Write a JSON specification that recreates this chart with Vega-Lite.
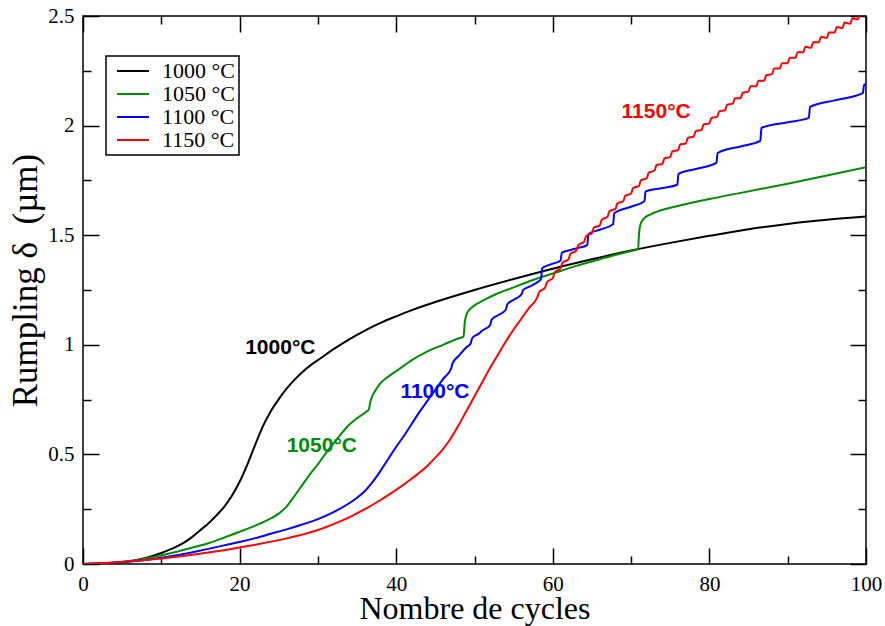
{
"$schema": "https://vega.github.io/schema/vega-lite/v6.json",
"width": 783, "height": 548,
"autosize": {"type": "none"},
"padding": {"left": 83, "top": 16, "right": 19, "bottom": 62},
"background": "white",
"datasets": {
"labels": [
{"T":"1000 °C","x":25.2,"y":0.985,"label":"1000°C"},
{"T":"1050 °C","x":30.5,"y":0.538,"label":"1050°C"},
{"T":"1100 °C","x":44.95,"y":0.786,"label":"1100°C"},
{"T":"1150 °C","x":73.2,"y":2.063,"label":"1150°C"}
],
"curves": [
{"T":"1000 °C","x":0,"y":0},{"T":"1000 °C","x":2,"y":0.002},{"T":"1000 °C","x":4,"y":0.006},{"T":"1000 °C","x":6,"y":0.013},{"T":"1000 °C","x":8,"y":0.027},{"T":"1000 °C","x":10,"y":0.05},{"T":"1000 °C","x":12,"y":0.08},{"T":"1000 °C","x":13,"y":0.1},{"T":"1000 °C","x":14,"y":0.125},{"T":"1000 °C","x":15,"y":0.155},{"T":"1000 °C","x":16,"y":0.185},{"T":"1000 °C","x":17,"y":0.22},{"T":"1000 °C","x":18,"y":0.26},{"T":"1000 °C","x":19,"y":0.31},{"T":"1000 °C","x":20,"y":0.375},{"T":"1000 °C","x":21,"y":0.455},{"T":"1000 °C","x":22,"y":0.545},{"T":"1000 °C","x":23,"y":0.63},{"T":"1000 °C","x":24,"y":0.698},{"T":"1000 °C","x":25,"y":0.752},{"T":"1000 °C","x":26,"y":0.8},{"T":"1000 °C","x":27,"y":0.84},{"T":"1000 °C","x":28,"y":0.875},{"T":"1000 °C","x":29,"y":0.905},{"T":"1000 °C","x":30,"y":0.93},{"T":"1000 °C","x":32,"y":0.98},{"T":"1000 °C","x":34,"y":1.025},{"T":"1000 °C","x":36,"y":1.065},{"T":"1000 °C","x":38,"y":1.1},{"T":"1000 °C","x":40,"y":1.13},{"T":"1000 °C","x":42,"y":1.158},{"T":"1000 °C","x":45,"y":1.195},{"T":"1000 °C","x":50,"y":1.25},{"T":"1000 °C","x":55,"y":1.3},{"T":"1000 °C","x":60,"y":1.347},{"T":"1000 °C","x":65,"y":1.39},{"T":"1000 °C","x":70,"y":1.43},{"T":"1000 °C","x":75,"y":1.465},{"T":"1000 °C","x":80,"y":1.497},{"T":"1000 °C","x":85,"y":1.527},{"T":"1000 °C","x":90,"y":1.551},{"T":"1000 °C","x":95,"y":1.57},{"T":"1000 °C","x":100,"y":1.585},

{"T":"1050 °C","x":0,"y":0},{"T":"1050 °C","x":2,"y":0.002},{"T":"1050 °C","x":4,"y":0.007},{"T":"1050 °C","x":6,"y":0.014},{"T":"1050 °C","x":8,"y":0.025},{"T":"1050 °C","x":10,"y":0.04},{"T":"1050 °C","x":12,"y":0.056},{"T":"1050 °C","x":14,"y":0.075},{"T":"1050 °C","x":16,"y":0.095},{"T":"1050 °C","x":18,"y":0.12},{"T":"1050 °C","x":20,"y":0.147},{"T":"1050 °C","x":22,"y":0.175},{"T":"1050 °C","x":24,"y":0.208},{"T":"1050 °C","x":25,"y":0.23},{"T":"1050 °C","x":26,"y":0.262},{"T":"1050 °C","x":27,"y":0.31},{"T":"1050 °C","x":28,"y":0.36},{"T":"1050 °C","x":29,"y":0.41},{"T":"1050 °C","x":30,"y":0.455},{"T":"1050 °C","x":31,"y":0.505},{"T":"1050 °C","x":32,"y":0.55},{"T":"1050 °C","x":33,"y":0.595},{"T":"1050 °C","x":34,"y":0.635},{"T":"1050 °C","x":35,"y":0.665},{"T":"1050 °C","x":36,"y":0.69},{"T":"1050 °C","x":36.5,"y":0.705},{"T":"1050 °C","x":36.7,"y":0.74},{"T":"1050 °C","x":37,"y":0.77},{"T":"1050 °C","x":37.5,"y":0.8},{"T":"1050 °C","x":38,"y":0.825},{"T":"1050 °C","x":39,"y":0.855},{"T":"1050 °C","x":40,"y":0.88},{"T":"1050 °C","x":41,"y":0.905},{"T":"1050 °C","x":42,"y":0.93},{"T":"1050 °C","x":44,"y":0.97},{"T":"1050 °C","x":46,"y":1.0},{"T":"1050 °C","x":48,"y":1.03},{"T":"1050 °C","x":48.6,"y":1.037},{"T":"1050 °C","x":48.75,"y":1.1},{"T":"1050 °C","x":49,"y":1.14},{"T":"1050 °C","x":49.5,"y":1.165},{"T":"1050 °C","x":50,"y":1.18},{"T":"1050 °C","x":51,"y":1.2},{"T":"1050 °C","x":53,"y":1.235},{"T":"1050 °C","x":55,"y":1.262},{"T":"1050 °C","x":57,"y":1.29},{"T":"1050 °C","x":60,"y":1.325},{"T":"1050 °C","x":63,"y":1.36},{"T":"1050 °C","x":66,"y":1.39},{"T":"1050 °C","x":68,"y":1.41},{"T":"1050 °C","x":70,"y":1.428},{"T":"1050 °C","x":70.9,"y":1.436},{"T":"1050 °C","x":71,"y":1.5},{"T":"1050 °C","x":71.2,"y":1.55},{"T":"1050 °C","x":71.6,"y":1.575},{"T":"1050 °C","x":72.5,"y":1.595},{"T":"1050 °C","x":75,"y":1.625},{"T":"1050 °C","x":78,"y":1.65},{"T":"1050 °C","x":80,"y":1.665},{"T":"1050 °C","x":85,"y":1.7},{"T":"1050 °C","x":90,"y":1.735},{"T":"1050 °C","x":95,"y":1.772},{"T":"1050 °C","x":100,"y":1.81},

{"T":"1100 °C","x":0,"y":0},{"T":"1100 °C","x":2,"y":0.002},{"T":"1100 °C","x":4,"y":0.006},{"T":"1100 °C","x":6,"y":0.011},{"T":"1100 °C","x":8,"y":0.018},{"T":"1100 °C","x":10,"y":0.028},{"T":"1100 °C","x":12,"y":0.04},{"T":"1100 °C","x":14,"y":0.054},{"T":"1100 °C","x":16,"y":0.069},{"T":"1100 °C","x":18,"y":0.085},{"T":"1100 °C","x":20,"y":0.1},{"T":"1100 °C","x":22,"y":0.118},{"T":"1100 °C","x":24,"y":0.138},{"T":"1100 °C","x":26,"y":0.158},{"T":"1100 °C","x":28,"y":0.18},{"T":"1100 °C","x":30,"y":0.205},{"T":"1100 °C","x":32,"y":0.237},{"T":"1100 °C","x":34,"y":0.277},{"T":"1100 °C","x":35,"y":0.302},{"T":"1100 °C","x":36,"y":0.333},{"T":"1100 °C","x":37,"y":0.375},{"T":"1100 °C","x":38,"y":0.425},{"T":"1100 °C","x":39,"y":0.48},{"T":"1100 °C","x":40,"y":0.535},{"T":"1100 °C","x":41,"y":0.585},{"T":"1100 °C","x":42,"y":0.64},{"T":"1100 °C","x":43,"y":0.695},{"T":"1100 °C","x":44,"y":0.745},{"T":"1100 °C","x":45,"y":0.795},{"T":"1100 °C","x":46,"y":0.845},{"T":"1100 °C","x":47,"y":0.89},{"T":"1100 °C","x":47.2,"y":0.915},{"T":"1100 °C","x":48,"y":0.95},{"T":"1100 °C","x":49,"y":0.99},{"T":"1100 °C","x":49.5,"y":1.005},{"T":"1100 °C","x":49.7,"y":1.03},{"T":"1100 °C","x":50.5,"y":1.05},{"T":"1100 °C","x":51,"y":1.065},{"T":"1100 °C","x":52,"y":1.09},{"T":"1100 °C","x":52.2,"y":1.115},{"T":"1100 °C","x":53,"y":1.135},{"T":"1100 °C","x":54,"y":1.16},{"T":"1100 °C","x":54.2,"y":1.185},{"T":"1100 °C","x":55,"y":1.205},{"T":"1100 °C","x":56,"y":1.23},{"T":"1100 °C","x":56.2,"y":1.25},{"T":"1100 °C","x":57,"y":1.265},{"T":"1100 °C","x":58,"y":1.285},{"T":"1100 °C","x":58.5,"y":1.3},{"T":"1100 °C","x":58.65,"y":1.35},{"T":"1100 °C","x":60,"y":1.37},{"T":"1100 °C","x":61,"y":1.385},{"T":"1100 °C","x":61.15,"y":1.42},{"T":"1100 °C","x":62,"y":1.43},{"T":"1100 °C","x":63,"y":1.44},{"T":"1100 °C","x":64.4,"y":1.455},{"T":"1100 °C","x":64.55,"y":1.505},{"T":"1100 °C","x":66,"y":1.525},{"T":"1100 °C","x":67.7,"y":1.55},{"T":"1100 °C","x":67.85,"y":1.6},{"T":"1100 °C","x":70,"y":1.63},{"T":"1100 °C","x":71.7,"y":1.655},{"T":"1100 °C","x":71.85,"y":1.7},{"T":"1100 °C","x":74,"y":1.715},{"T":"1100 °C","x":75.9,"y":1.73},{"T":"1100 °C","x":76.05,"y":1.78},{"T":"1100 °C","x":78,"y":1.8},{"T":"1100 °C","x":80.9,"y":1.83},{"T":"1100 °C","x":81.05,"y":1.875},{"T":"1100 °C","x":84,"y":1.905},{"T":"1100 °C","x":86.5,"y":1.93},{"T":"1100 °C","x":86.65,"y":1.99},{"T":"1100 °C","x":90,"y":2.015},{"T":"1100 °C","x":92.7,"y":2.035},{"T":"1100 °C","x":92.85,"y":2.085},{"T":"1100 °C","x":96,"y":2.115},{"T":"1100 °C","x":99.6,"y":2.148},{"T":"1100 °C","x":99.75,"y":2.185},{"T":"1100 °C","x":100,"y":2.19},

{"T":"1150 °C","x":0,"y":0},{"T":"1150 °C","x":2,"y":0.003},{"T":"1150 °C","x":4,"y":0.007},{"T":"1150 °C","x":6,"y":0.012},{"T":"1150 °C","x":8,"y":0.018},{"T":"1150 °C","x":10,"y":0.025},{"T":"1150 °C","x":12,"y":0.033},{"T":"1150 °C","x":14,"y":0.042},{"T":"1150 °C","x":16,"y":0.052},{"T":"1150 °C","x":18,"y":0.063},{"T":"1150 °C","x":20,"y":0.075},{"T":"1150 °C","x":22,"y":0.088},{"T":"1150 °C","x":24,"y":0.102},{"T":"1150 °C","x":26,"y":0.117},{"T":"1150 °C","x":28,"y":0.134},{"T":"1150 °C","x":30,"y":0.155},{"T":"1150 °C","x":32,"y":0.182},{"T":"1150 °C","x":34,"y":0.213},{"T":"1150 °C","x":36,"y":0.25},{"T":"1150 °C","x":38,"y":0.292},{"T":"1150 °C","x":40,"y":0.338},{"T":"1150 °C","x":42,"y":0.39},{"T":"1150 °C","x":44,"y":0.448},{"T":"1150 °C","x":45,"y":0.485},{"T":"1150 °C","x":46,"y":0.525},{"T":"1150 °C","x":47,"y":0.575},{"T":"1150 °C","x":48,"y":0.635},{"T":"1150 °C","x":49,"y":0.7},{"T":"1150 °C","x":50,"y":0.765},{"T":"1150 °C","x":51,"y":0.83},{"T":"1150 °C","x":52,"y":0.895},{"T":"1150 °C","x":53,"y":0.955},{"T":"1150 °C","x":54,"y":1.015},{"T":"1150 °C","x":55,"y":1.07},{"T":"1150 °C","x":56,"y":1.12},{"T":"1150 °C","x":57,"y":1.17},
{"T":"1150 °C","x":58,"y":1.215},{"T":"1150 °C","x":58.25,"y":1.24},{"T":"1150 °C","x":59,"y":1.26},{"T":"1150 °C","x":59.25,"y":1.285},{"T":"1150 °C","x":60,"y":1.305},{"T":"1150 °C","x":60.25,"y":1.33},{"T":"1150 °C","x":61,"y":1.35},{"T":"1150 °C","x":61.25,"y":1.375},{"T":"1150 °C","x":62,"y":1.39},{"T":"1150 °C","x":62.25,"y":1.415},{"T":"1150 °C","x":63,"y":1.43},{"T":"1150 °C","x":63.25,"y":1.455},{"T":"1150 °C","x":64,"y":1.47},{"T":"1150 °C","x":64.25,"y":1.495},{"T":"1150 °C","x":65,"y":1.51},{"T":"1150 °C","x":65.25,"y":1.535},{"T":"1150 °C","x":66,"y":1.545},{"T":"1150 °C","x":66.25,"y":1.57},{"T":"1150 °C","x":67,"y":1.585},{"T":"1150 °C","x":67.25,"y":1.61},{"T":"1150 °C","x":68,"y":1.62},{"T":"1150 °C","x":68.25,"y":1.645},{"T":"1150 °C","x":69,"y":1.655},{"T":"1150 °C","x":69.25,"y":1.68},{"T":"1150 °C","x":70,"y":1.69},{"T":"1150 °C","x":70.25,"y":1.715},{"T":"1150 °C","x":71,"y":1.725},{"T":"1150 °C","x":71.25,"y":1.75},{"T":"1150 °C","x":72,"y":1.76},{"T":"1150 °C","x":72.25,"y":1.785},{"T":"1150 °C","x":73,"y":1.795},{"T":"1150 °C","x":73.25,"y":1.82},{"T":"1150 °C","x":74,"y":1.825},{"T":"1150 °C","x":74.25,"y":1.85},{"T":"1150 °C","x":75,"y":1.857},{"T":"1150 °C","x":75.25,"y":1.882},{"T":"1150 °C","x":76,"y":1.888},{"T":"1150 °C","x":76.25,"y":1.913},{"T":"1150 °C","x":77,"y":1.919},{"T":"1150 °C","x":77.25,"y":1.944},{"T":"1150 °C","x":78,"y":1.95},{"T":"1150 °C","x":78.25,"y":1.975},{"T":"1150 °C","x":79,"y":1.98},{"T":"1150 °C","x":79.25,"y":2.005},{"T":"1150 °C","x":80,"y":2.01},{"T":"1150 °C","x":80.25,"y":2.035},{"T":"1150 °C","x":81,"y":2.04},{"T":"1150 °C","x":81.25,"y":2.065},{"T":"1150 °C","x":82,"y":2.07},{"T":"1150 °C","x":82.25,"y":2.095},{"T":"1150 °C","x":83,"y":2.1},{"T":"1150 °C","x":83.25,"y":2.125},{"T":"1150 °C","x":84,"y":2.125},{"T":"1150 °C","x":84.25,"y":2.15},{"T":"1150 °C","x":85,"y":2.155},{"T":"1150 °C","x":85.25,"y":2.18},{"T":"1150 °C","x":86,"y":2.18},{"T":"1150 °C","x":86.25,"y":2.205},{"T":"1150 °C","x":87,"y":2.205},{"T":"1150 °C","x":87.25,"y":2.23},{"T":"1150 °C","x":88,"y":2.235},{"T":"1150 °C","x":88.25,"y":2.26},{"T":"1150 °C","x":89,"y":2.26},{"T":"1150 °C","x":89.25,"y":2.285},{"T":"1150 °C","x":90,"y":2.285},{"T":"1150 °C","x":90.25,"y":2.31},{"T":"1150 °C","x":91,"y":2.31},{"T":"1150 °C","x":91.25,"y":2.335},{"T":"1150 °C","x":92,"y":2.335},{"T":"1150 °C","x":92.25,"y":2.36},{"T":"1150 °C","x":93,"y":2.355},{"T":"1150 °C","x":93.25,"y":2.38},{"T":"1150 °C","x":94,"y":2.38},{"T":"1150 °C","x":94.25,"y":2.405},{"T":"1150 °C","x":95,"y":2.4},{"T":"1150 °C","x":95.25,"y":2.425},{"T":"1150 °C","x":96,"y":2.425},{"T":"1150 °C","x":96.25,"y":2.45},{"T":"1150 °C","x":97,"y":2.445},{"T":"1150 °C","x":97.25,"y":2.47},{"T":"1150 °C","x":98,"y":2.465},{"T":"1150 °C","x":98.25,"y":2.49},{"T":"1150 °C","x":99,"y":2.485},{"T":"1150 °C","x":99.25,"y":2.51},{"T":"1150 °C","x":100,"y":2.51}
]
},
"layer": [
{
"data": {"name": "curves"},
"mark": {"type": "line", "strokeWidth": 2, "clip": true, "interpolate": "monotone"},
"encoding": {
"x": {"field": "x", "type": "quantitative", "scale": {"domain": [0, 100], "nice": false, "zero": false},
"axis": {"orient": "bottom", "values": [0, 20, 40, 60, 80, 100], "tickSize": -16, "labelPadding": 25, "labelFlush": false, "labelOverlap": false, "format": "d", "title": "Nombre de cycles", "titleY": 54, "titleBaseline": "alphabetic"}},
"y": {"field": "y", "type": "quantitative", "scale": {"domain": [0, 2.5], "nice": false, "zero": false},
"axis": {"orient": "left", "values": [0, 0.5, 1, 1.5, 2, 2.5], "tickSize": -16, "labelPadding": 25, "labelFlush": false, "labelOverlap": false, "format": "~g", "title": "Rumpling δ\u00a0\u00a0(µm)", "titleX": -47, "titleY": 264, "titleBaseline": "alphabetic", "titleAngle": -90, "titleFontSize": 35}},
"color": {"field": "T", "type": "nominal",
"scale": {"domain": ["1000 °C", "1050 °C", "1100 °C", "1150 °C"], "range": ["#000000", "#008b00", "#0000ff", "#ff0000"]},
"legend": {"orient": "none", "legendX": 23, "legendY": 40, "title": null, "symbolType": "M-2,0H2", "symbolSize": 256, "symbolStrokeWidth": 2, "labelFont": "Liberation Serif", "labelFontSize": 22, "labelColor": "black", "labelOffset": 18, "padding": 4, "symbolOffset": 12, "rowPadding": 1, "strokeColor": "black", "fillColor": "white", "labelLimit": 200}}
}
},
{
"data": {"name": "labels"},
"mark": {"type": "text", "font": "Liberation Sans", "fontWeight": "bold", "fontSize": 21, "align": "center", "baseline": "middle"},
"encoding": {
"x": {"field": "x", "type": "quantitative", "scale": {"domain": [0, 100], "nice": false, "zero": false},
"axis": {"orient": "bottom", "values": [10, 30, 50, 70, 90], "tickSize": -8, "labels": false, "title": null}},
"y": {"field": "y", "type": "quantitative", "scale": {"domain": [0, 2.5], "nice": false, "zero": false},
"axis": {"orient": "left", "values": [0.25, 0.75, 1.25, 1.75, 2.25], "tickSize": -8, "labels": false, "title": null}},
"text": {"field": "label"},
"color": {"field": "T", "type": "nominal", "legend": null}
}
},
{
"data": {"name": "labels"},
"mark": {"type": "point", "opacity": 0},
"encoding": {
"x": {"field": "x", "type": "quantitative", "scale": {"domain": [0, 100], "nice": false, "zero": false},
"axis": {"orient": "top", "values": [0, 20, 40, 60, 80, 100], "tickSize": -16, "labels": false, "title": null}},
"y": {"field": "y", "type": "quantitative", "scale": {"domain": [0, 2.5], "nice": false, "zero": false},
"axis": {"orient": "right", "values": [0, 0.5, 1, 1.5, 2, 2.5], "tickSize": -16, "labels": false, "title": null}}
}
},
{
"data": {"name": "labels"},
"mark": {"type": "point", "opacity": 0},
"encoding": {
"x": {"field": "x", "type": "quantitative", "scale": {"domain": [0, 100], "nice": false, "zero": false},
"axis": {"orient": "top", "values": [10, 30, 50, 70, 90], "tickSize": -8, "labels": false, "title": null}},
"y": {"field": "y", "type": "quantitative", "scale": {"domain": [0, 2.5], "nice": false, "zero": false},
"axis": {"orient": "right", "values": [0.25, 0.75, 1.25, 1.75, 2.25], "tickSize": -8, "labels": false, "title": null}}
}
}
],
"resolve": {"axis": {"x": "independent", "y": "independent"}},
"config": {
"view": {"stroke": "black", "strokeWidth": 1.5},
"axis": {"domain": false, "grid": false, "tickColor": "black", "tickWidth": 1.5, "labelFont": "Liberation Serif", "labelFontSize": 21, "labelColor": "black", "titleFont": "Liberation Serif", "titleFontWeight": "normal", "titleColor": "black", "titleFontSize": 32},
"legend": {"strokeWidth": 1.5}
}
}
